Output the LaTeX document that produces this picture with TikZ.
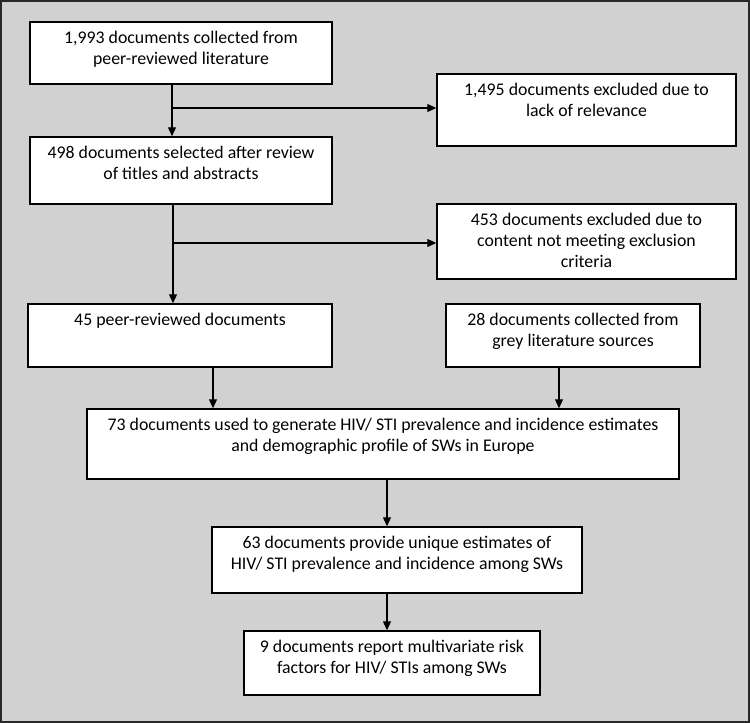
\documentclass[tikz,border=0pt]{standalone}
\usepackage{fontspec}
\setmainfont{Carlito}
\usepackage{tikz}
\usetikzlibrary{arrows.meta, positioning, calc}
\definecolor{framegray}{RGB}{209, 209, 209}
\definecolor{framedark}{RGB}{40, 40, 40}

\begin{document}
\begin{tikzpicture}[x=1pt, y=-1pt,
  box/.style 2 args={draw, fill=white, line width=1.5pt, inner sep=0pt,
    minimum width=#1, minimum height=#2},
  txt/.style={anchor=north, align=center, inner sep=0pt, yshift=-10pt,
    font=\fontsize{17.8pt}{21pt}\selectfont},
  arr/.style={line width=1.2pt, -{Triangle[width=8pt, length=9pt]}}]
  \useasboundingbox (0,0) rectangle (750,723);
  \draw[line width=2pt, framedark, fill=framegray] (1,1) rectangle (749,722);
  % search and screening
  \node[box={302pt}{62pt}, label={[txt]north:{1,993 documents collected from\\peer-reviewed literature}}] (lit) at (181,53) {};
  \node[box={302pt}{67pt}, label={[txt]north:{498 documents selected after review\\of titles and abstracts}}] (sel) at (181,170.5) {};
  \node[box={299pt}{72pt}, label={[txt]north:{1,495 documents excluded due to\\lack of relevance}}] (exA) at (586.5,110) {};
  \node[box={299pt}{75pt}, label={[txt]north:{453 documents excluded due to\\content not meeting exclusion\\criteria}}] (exB) at (586.5,241.5) {};
  % sources
  \node[box={304pt}{63pt}, label={[txt]north:{45 peer-reviewed documents}}] (peer) at (180,335.5) {};
  \node[box={254pt}{63pt}, label={[txt]north:{28 documents collected from\\grey literature sources}}] (grey) at (573,335.5) {};
  % results
  \node[box={592pt}{70pt}, label={[txt]north:{73 documents used to generate HIV/ STI prevalence and incidence estimates\\and demographic profile of SWs in Europe}}] (used) at (383,444) {};
  \node[box={370pt}{66pt}, label={[txt]north:{63 documents provide unique estimates of\\HIV/ STI prevalence and incidence among SWs}}] (uniq) at (397,560) {};
  \node[box={296pt}{64pt}, label={[txt]north:{9 documents report multivariate risk\\factors for HIV/ STIs among SWs}}] (risk) at (392,663) {};
  % connectors
  \coordinate (s1) at (172,108);
  \coordinate (s2) at (173,243);
  \coordinate (j1) at (213,0);
  \coordinate (j2) at (559,0);
  \coordinate (j3) at (387,0);
  \draw[arr] (lit.south -| s1) -- (sel.north -| s1);
  \draw[arr] (s1) -- (s1 -| exA.west);
  \draw[arr] (sel.south -| s2) -- (peer.north -| s2);
  \draw[arr] (s2) -- (s2 -| exB.west);
  \draw[arr] (peer.south -| j1) -- (used.north -| j1);
  \draw[arr] (grey.south -| j2) -- (used.north -| j2);
  \draw[arr] (used.south -| j3) -- (uniq.north -| j3);
  \draw[arr] (uniq.south -| j3) -- (risk.north -| j3);
\end{tikzpicture}
\end{document}
